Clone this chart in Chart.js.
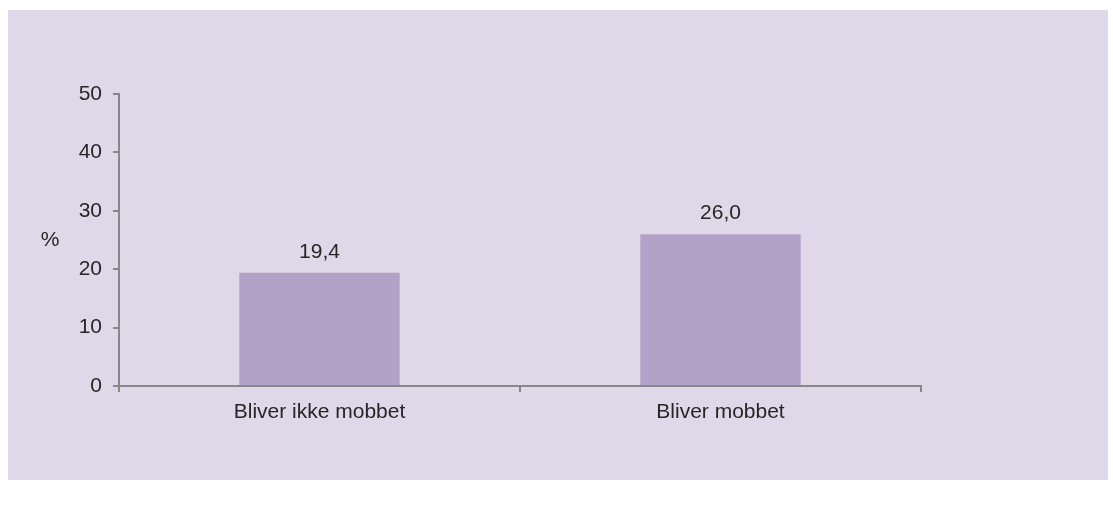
<!DOCTYPE html>
<html>
<head>
<meta charset="utf-8">
<script src="https://cdn.jsdelivr.net/npm/chart.js@4/dist/chart.umd.min.js"></script>
<style>
  html, body { margin: 0; padding: 0; background: #ffffff; }
  #wrap {
    position: absolute; left: 8px; top: 10px;
    width: 1100px; height: 470px;
    background: #dfd8e8;
  }
</style>
</head>
<body>
<div id="wrap"><canvas id="chart" width="1100" height="470"></canvas></div>
<script>
// DATA
const categories = ['Bliver ikke mobbet', 'Bliver mobbet'];
const values = [19.4, 26.0];
const yTicks = [0, 10, 20, 30, 40, 50];
const yUnit = '%';

const textColor = '#262626';
const axisColor = '#878787';
const font = { family: 'Liberation Sans, Arial, sans-serif', size: 21 };

const fmt = v => v.toFixed(1).replace('.', ',');

// value labels over the bars + the "%" unit
const labelsPlugin = {
  id: 'labels',
  afterDatasetsDraw(chart) {
    const ctx = chart.ctx;
    const meta = chart.getDatasetMeta(0);
    ctx.save();
    ctx.font = font.size + 'px ' + font.family;
    ctx.fillStyle = textColor;
    ctx.textAlign = 'center';
    ctx.textBaseline = 'alphabetic';
    meta.data.forEach((bar, i) => {
      ctx.fillText(fmt(values[i]), bar.x, bar.y - 15);
    });
    const y = chart.scales.y;
    ctx.textBaseline = 'middle';
    ctx.fillText(yUnit, y.left + 42, y.getPixelForValue(25));
    ctx.restore();
  }
};

new Chart(document.getElementById('chart'), {
  type: 'bar',
  data: {
    labels: categories,
    datasets: [{
      data: values,
      backgroundColor: '#b3a2c7',
      categoryPercentage: 1,
      barPercentage: 0.4
    }]
  },
  options: {
    responsive: false,
    animation: false,
    events: [],
    layout: { padding: { top: 84, right: 187, left: 0, bottom: 0 } },
    plugins: { legend: { display: false }, tooltip: { enabled: false } },
    scales: {
      x: {
        offset: true,
        grid: {
          offset: true,
          drawOnChartArea: false,
          drawTicks: true,
          tickLength: 6,
          color: axisColor,
          lineWidth: 2
        },
        border: { color: axisColor, width: 2 },
        ticks: { color: textColor, font: font, padding: 8, maxRotation: 0 },
        afterFit(s) { s.height = 94; }
      },
      y: {
        min: 0,
        max: 50,
        afterBuildTicks(s) { s.ticks = yTicks.map(v => ({ value: v })); },
        grid: {
          drawOnChartArea: false,
          drawTicks: true,
          tickLength: 6,
          color: axisColor,
          lineWidth: 2
        },
        border: { color: axisColor, width: 2 },
        ticks: { color: textColor, font: font, padding: 11 },
        afterFit(s) { s.width = 111; }
      }
    }
  },
  plugins: [labelsPlugin]
});
</script>
</body>
</html>
